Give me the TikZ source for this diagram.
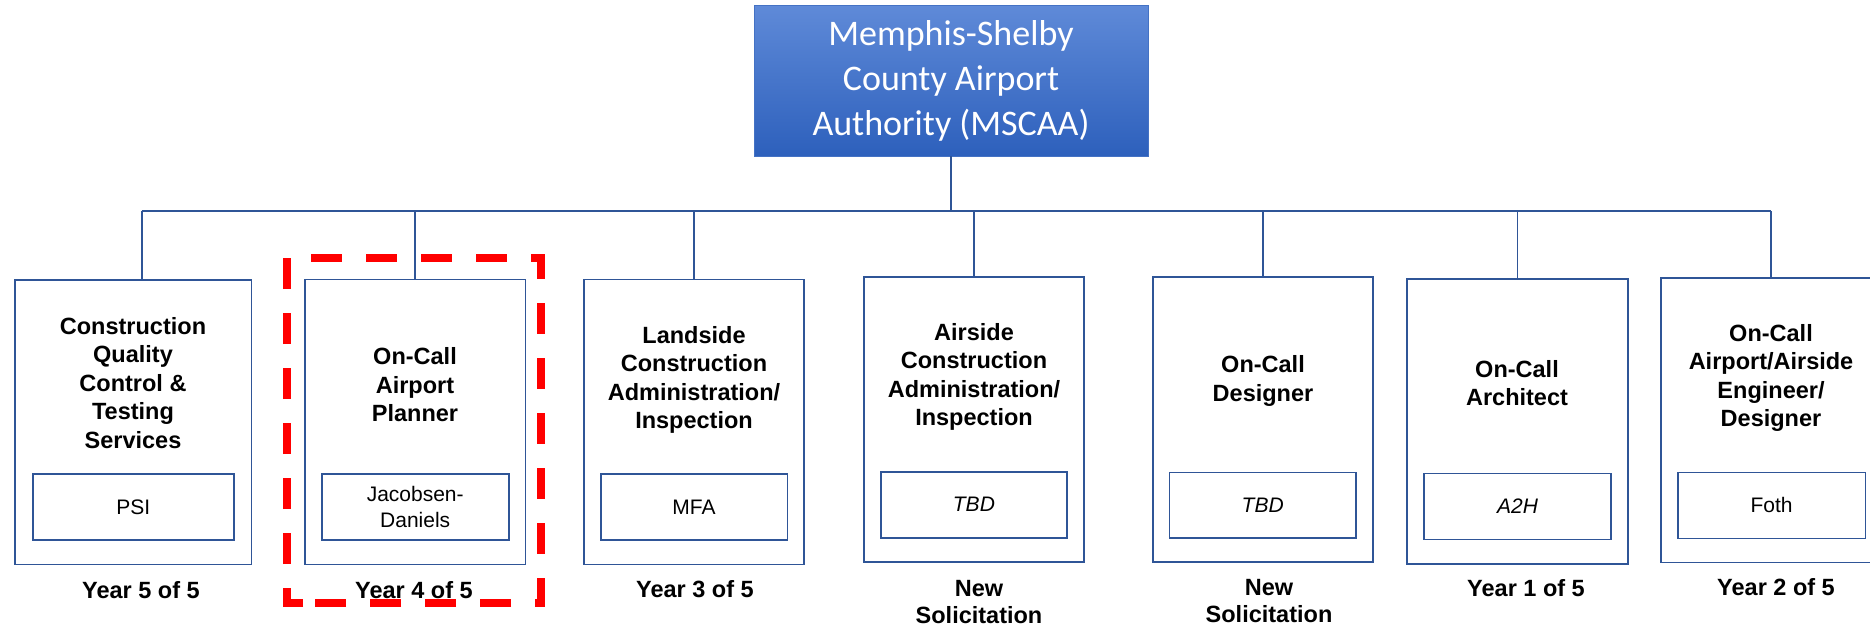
\documentclass[tikz,border=0pt]{standalone}
\usepackage{fontspec}
\setmainfont{Liberation Sans}
\newfontfamily\calibri{Carlito}
\definecolor{lineblue}{HTML}{2F5597}
\definecolor{topA}{HTML}{5F8AD8}
\definecolor{topB}{HTML}{2D60BC}
\definecolor{topedge}{HTML}{4472C4}
\begin{document}
\begin{tikzpicture}[x=1pt,y=-1pt,
 outerbox/.style={draw=lineblue, line width=1.6pt, inner sep=0pt},
 innerbox/.style={draw=lineblue, line width=1.6pt, inner sep=0pt, align=center, font=\fontsize{21}{26}\selectfont},
 title/.style={align=center, inner sep=0pt, font=\fontsize{23.5}{28.5}\selectfont\bfseries},
 yearlabel/.style={align=center, inner sep=0pt, font=\fontsize{23.5}{26.5}\selectfont\bfseries},
 conn/.style={draw=lineblue, line width=1.6pt},
 highlight/.style={draw=red, line width=7.3pt, dash pattern=on 31pt off 24pt}
]
\useasboundingbox (0,0) rectangle (1870,630);
\clip (0,0) rectangle (1870,630);

% top box
\node[minimum width=394pt, minimum height=151pt, top color=topA, bottom color=topB,
      draw=topedge, line width=0.8pt, inner sep=0pt, text=white, align=center,
      font=\calibri\fontsize{36}{45}\selectfont] (top) at (951,80.5)
      {Memphis-Shelby\\County Airport\\Authority (MSCAA)};

% outer boxes
\node[outerbox, minimum width=236.6pt, minimum height=284.3pt] (b1) at (133,422.2) {};
\node[outerbox, minimum width=220.6pt, minimum height=285pt] (b2) at (415,421.8) {};
\node[outerbox, minimum width=220.3pt, minimum height=285pt] (b3) at (693.9,421.8) {};
\node[outerbox, minimum width=219.7pt, minimum height=285pt] (b4) at (973.9,419.5) {};
\node[outerbox, minimum width=220pt, minimum height=285pt] (b5) at (1262.7,419.2) {};
\node[outerbox, minimum width=221.3pt, minimum height=284.7pt] (b6) at (1517.35,421.35) {};
\node[outerbox, minimum width=220.3pt, minimum height=284.6pt] (b7) at (1770.9,420) {};

% titles
\node[title] (t1) at (133,383) {Construction\\Quality\\Control \&\\Testing\\Services};
\node[title] (t2) at (415,385) {On-Call\\Airport\\Planner};
\node[title] (t3) at (694,380) {Landside\\Construction\\Administration/\\Inspection};
\node[title] (t4) at (974,377) {Airside\\Construction\\Administration/\\Inspection};
\node[title] (t5) at (1263,381) {On-Call\\Designer};
\node[title] (t6) at (1517,383) {On-Call\\Architect};
\node[title] (t7) at (1771,378) {On-Call\\Airport/Airside\\Engineer/\\Designer};

% inner boxes
\node[innerbox, minimum width=201.3pt, minimum height=66pt] (i1) at (133.4,507) {PSI};
\node[innerbox, minimum width=187pt, minimum height=66pt] (i2) at (415.2,507) {Jacobsen-\\Daniels};
\node[innerbox, minimum width=186.6pt, minimum height=66pt] (i3) at (694,507) {MFA};
\node[innerbox, minimum width=186.3pt, minimum height=66pt] (i4) at (973.9,504.7) {\itshape TBD};
\node[innerbox, minimum width=186.7pt, minimum height=65.4pt] (i5) at (1262.7,505) {\itshape TBD};
\node[innerbox, minimum width=187pt, minimum height=66pt] (i6) at (1517.5,506.3) {\itshape A2H};
\node[innerbox, minimum width=187.6pt, minimum height=66pt] (i7) at (1771.5,505.3) {Foth};

% connectors
\coordinate (busL) at (141.7,211);
\draw[conn] (busL) -- (b7.north |- busL);
\draw[conn] (top.south) -- (top.south |- busL);
\draw[conn] (busL) -- (busL |- b1.north);
\foreach \n in {2,...,7} \draw[conn] (b\n.north) -- (b\n.north |- busL);

% highlight frame
\draw[highlight] (303,603) -- (287,603) -- (287,258) -- (541,258) -- (541,603) -- cycle;

% year labels
\node[yearlabel] (y1) at (141,590) {Year 5 of 5};
\node[yearlabel] (y2) at (414,590) {Year 4 of 5};
\node[yearlabel] (y3) at (695,589) {Year 3 of 5};
\node[yearlabel] (y4) at (979,602) {New\\Solicitation};
\node[yearlabel] (y5) at (1269,601) {New\\Solicitation};
\node[yearlabel] (y6) at (1526,588) {Year 1 of 5};
\node[yearlabel] (y7) at (1776,587) {Year 2 of 5};
\end{tikzpicture}
\end{document}
